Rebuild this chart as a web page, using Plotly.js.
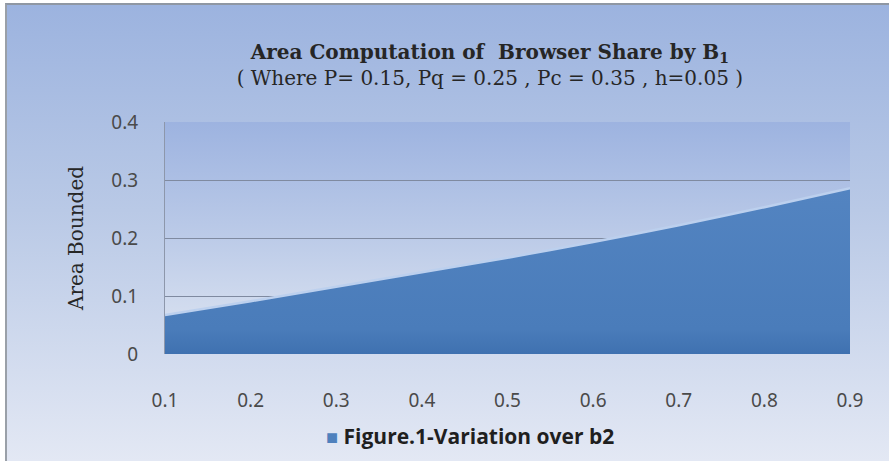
<!DOCTYPE html>
<html>
<head>
<meta charset="utf-8">
<script src="https://cdn.plot.ly/plotly-3.0.1.min.js"></script>
<style>
  html, body { margin: 0; padding: 0; }
  body { width: 889px; height: 463px; overflow: hidden; background: #ffffff; position: relative; }
  #frame { position: absolute; left: 5px; top: 3px; width: 884px; height: 458px;
           background: linear-gradient(to bottom, #9cb3df 0%, #b9c9e6 45%, #e3e8f4 100%);
           border-left: 2px solid #9aa0a8; border-top: 2px solid #8f97a3; box-sizing: border-box; }
  #plotbg { position: absolute; left: 165px; top: 122px; width: 685px; height: 232px;
            background: linear-gradient(to bottom, #9db3e0 0%, #bccbe8 50%, #dfe6f2 100%); }
  #chart { position: absolute; left: 0; top: 0; width: 889px; height: 463px; }
</style>
</head>
<body>
<div id="frame"></div>
<div id="plotbg"></div>
<div id="chart"></div>
<script>
const xValues = [0.1, 0.2, 0.3, 0.4, 0.5, 0.6, 0.7, 0.8, 0.9];
const areaValues = [0.067, 0.091, 0.116, 0.141, 0.166, 0.193, 0.222, 0.253, 0.286];
const xTicks = [0.1, 0.2, 0.3, 0.4, 0.5, 0.6, 0.7, 0.8, 0.9];
const xTickLabels = ['0.1', '0.2', '0.3', '0.4', '0.5', '0.6', '0.7', '0.8', '0.9'];
const yTicks = [0, 0.1, 0.2, 0.3, 0.4];
const yTickLabels = ['0', '0.1', '0.2', '0.3', '0.4'];
const seriesName = 'Figure.1-Variation over b2';
const seriesColor = '#4f81bd';

const areaTrace = {
  x: xValues,
  y: areaValues,
  type: 'scatter',
  mode: 'none',
  name: seriesName,
  showlegend: false,
  fill: 'tozeroy',
  fillcolor: seriesColor,
  fillgradient: { type: 'vertical', colorscale: [[0, '#3f71b0'], [0.15, '#4a7cba'], [1, '#5384c1']] },
  hoverinfo: 'skip'
};
const edgeTrace = {
  x: xValues,
  y: areaValues,
  type: 'scatter',
  mode: 'lines',
  showlegend: false,
  line: { color: '#bcd0ee', width: 2.5, shape: 'spline', smoothing: 0.3 },
  hoverinfo: 'skip'
};

const layout = {
  width: 889,
  height: 463,
  margin: { l: 165, r: 39, t: 122, b: 109, autoexpand: false },
  paper_bgcolor: 'rgba(0,0,0,0)',
  plot_bgcolor: 'rgba(0,0,0,0)',
  title: {
    text: '<b>Area Computation of  Browser Share by B<sub>1</sub></b><br>( Where P= 0.15, Pq = 0.25 , Pc = 0.35 , h=0.05 )',
    font: { family: 'DejaVu Serif, serif', size: 20, color: '#262626' },
    x: 0.551, xanchor: 'center',
    y: 0.873, yanchor: 'top'
  },
  xaxis: {
    range: [0.1, 0.9],
    tickvals: xTicks,
    ticktext: xTickLabels,
    showgrid: false,
    zeroline: false,
    showline: false,
    ticks: '',
    ticklabelstandoff: 33,
    tickfont: { family: 'Noto Sans, sans-serif', size: 19, color: '#4a4a4a' },
    fixedrange: true
  },
  yaxis: {
    range: [0, 0.4],
    tickvals: yTicks,
    ticktext: yTickLabels,
    showgrid: true,
    gridcolor: '#7f8aa0',
    gridwidth: 1,
    zeroline: false,
    showline: true,
    linecolor: '#8d97ab',
    ticks: '',
    ticklabelstandoff: 22,
    tickfont: { family: 'Noto Sans, sans-serif', size: 19, color: '#4a4a4a' },
    title: {
      text: 'Area Bounded',
      font: { family: 'DejaVu Serif, serif', size: 20, color: '#262626' },
      standoff: 22
    },
    fixedrange: true
  },
  showlegend: false,
  annotations: [{
    xref: 'paper', yref: 'paper',
    x: 0.445, xanchor: 'center',
    y: -0.355, yanchor: 'middle',
    showarrow: false,
    text: '<span style="color:' + seriesColor + ';font-size:20px">■</span> <b>' + seriesName + '</b>',
    font: { family: 'Open Sans, sans-serif', size: 21, color: '#1f1f1f' }
  }]
};

Plotly.newPlot('chart', [areaTrace, edgeTrace], layout, { displayModeBar: false, staticPlot: true });
</script>
</body>
</html>
